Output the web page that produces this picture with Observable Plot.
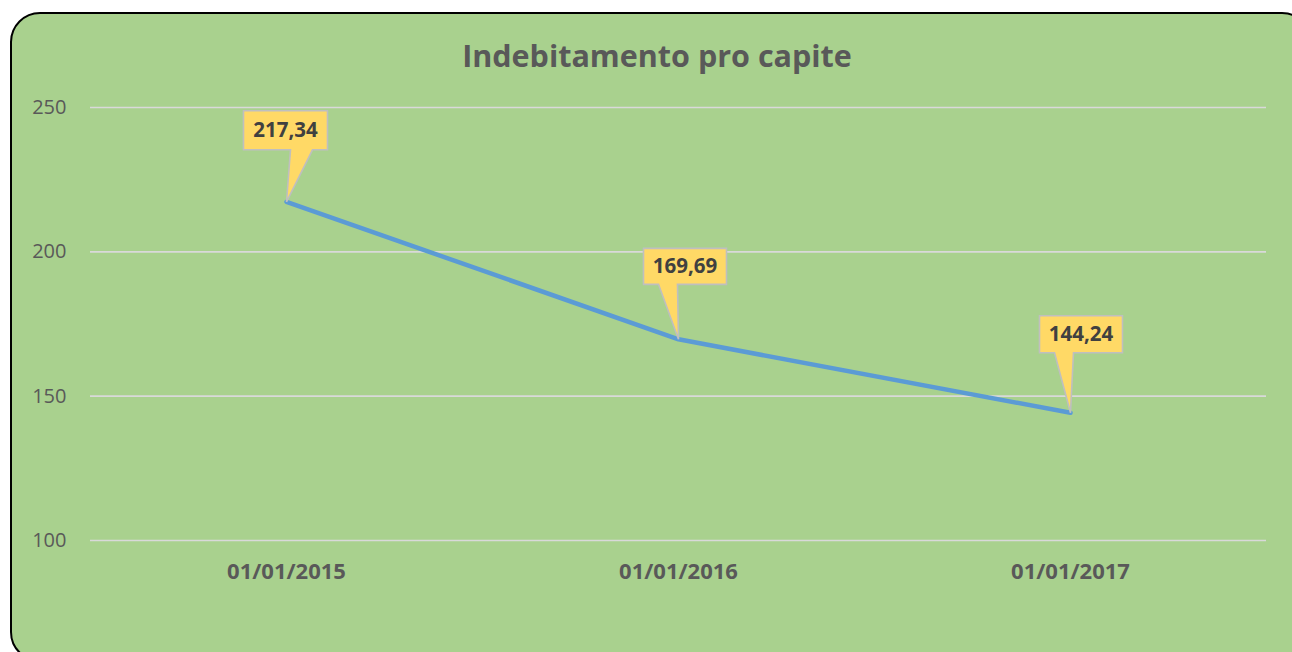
<!DOCTYPE html>
<html>
<head>
<meta charset="utf-8">
<script src="https://cdn.jsdelivr.net/npm/d3@7"></script>
<script src="https://cdn.jsdelivr.net/npm/@observablehq/plot@0.6"></script>
<style>
  html, body { margin: 0; padding: 0; background: #ffffff; width: 1292px; height: 652px; overflow: hidden; }
  #frame { position: absolute; left: 10px; top: 12px; width: 1302px; height: 650px; box-sizing: border-box;
           border: 2px solid #000; border-radius: 30px; background: #a9d18e; }
  #title { position: absolute; left: 0; top: 40px; width: 1314px; text-align: center;
           font-family: "Open Sans", sans-serif; font-weight: 700; font-size: 30.5px; line-height: 30px; color: #595959; }
  #chart { position: absolute; left: 0; top: 80px; }
</style>
</head>
<body>
<div id="frame"></div>
<div id="title">Indebitamento pro capite</div>
<div id="chart"></div>
<script>
// ---- data ----
const dates = ["01/01/2015", "01/01/2016", "01/01/2017"];
const values = [217.34, 169.69, 144.24];
const yTicks = [100, 150, 200, 250];

const data = dates.map((d, i) => ({date: d, value: values[i], label: values[i].toFixed(2).replace(".", ",")}));

// ---- callout shapes (pixel offsets relative to the data point) ----
const calloutShapes = [
  {left: -43, right: 41, top: -91, bottom: -52, b1: 4, b2: 26},
  {left: -35, right: 48, top: -91, bottom: -55, b1: -20, b2: -1},
  {left: -31, right: 52, top: -97, bottom: -60, b1: -16, b2: 3}
];
function calloutSymbol(s) {
  return {
    draw(ctx) {
      ctx.moveTo(0, 0);
      ctx.lineTo(s.b1, s.bottom);
      ctx.lineTo(s.left, s.bottom);
      ctx.lineTo(s.left, s.top);
      ctx.lineTo(s.right, s.top);
      ctx.lineTo(s.right, s.bottom);
      ctx.lineTo(s.b2, s.bottom);
      ctx.closePath();
    }
  };
}

const font = '"Open Sans", sans-serif';
const marks = [
  Plot.gridY(yTicks, {stroke: "#d9d9d9", strokeOpacity: 1, strokeWidth: 1.6}),
  Plot.axisY(yTicks, {tickSize: 0, tickPadding: 24, fontSize: 20, fill: "#595959", label: null, fontFamily: font}),
  Plot.axisX({tickSize: 0, tickPadding: 23, fontSize: 22, fontWeight: 700, fill: "#595959", label: null, fontFamily: font}),
  Plot.line(data, {x: "date", y: "value", stroke: "#5b9bd5", strokeWidth: 4.5, strokeLinecap: "round", strokeLinejoin: "round"})
];
data.forEach((d, i) => {
  const s = calloutShapes[i];
  marks.push(Plot.dot([d], {x: "date", y: "value", r: 10, symbol: calloutSymbol(s),
    fill: "#ffd966", stroke: "#bfbfbf", strokeWidth: 1.6}));
  marks.push(Plot.text([d], {x: "date", y: "value", text: "label",
    dx: (s.left + s.right) / 2, dy: (s.top + s.bottom) / 2,
    fontSize: 20.5, fontWeight: 700, fill: "#404040", fontFamily: font}));
});

const chart = Plot.plot({
  width: 1292,
  height: 540,
  marginTop: 27,
  marginBottom: 80,
  marginLeft: 90,
  marginRight: 26,
  style: {background: "transparent", fontFamily: font, overflow: "visible"},
  x: {type: "point", domain: dates, padding: 0.5, label: null},
  y: {domain: [100, 250], label: null},
  marks
});
document.getElementById("chart").appendChild(chart);
</script>
</body>
</html>
